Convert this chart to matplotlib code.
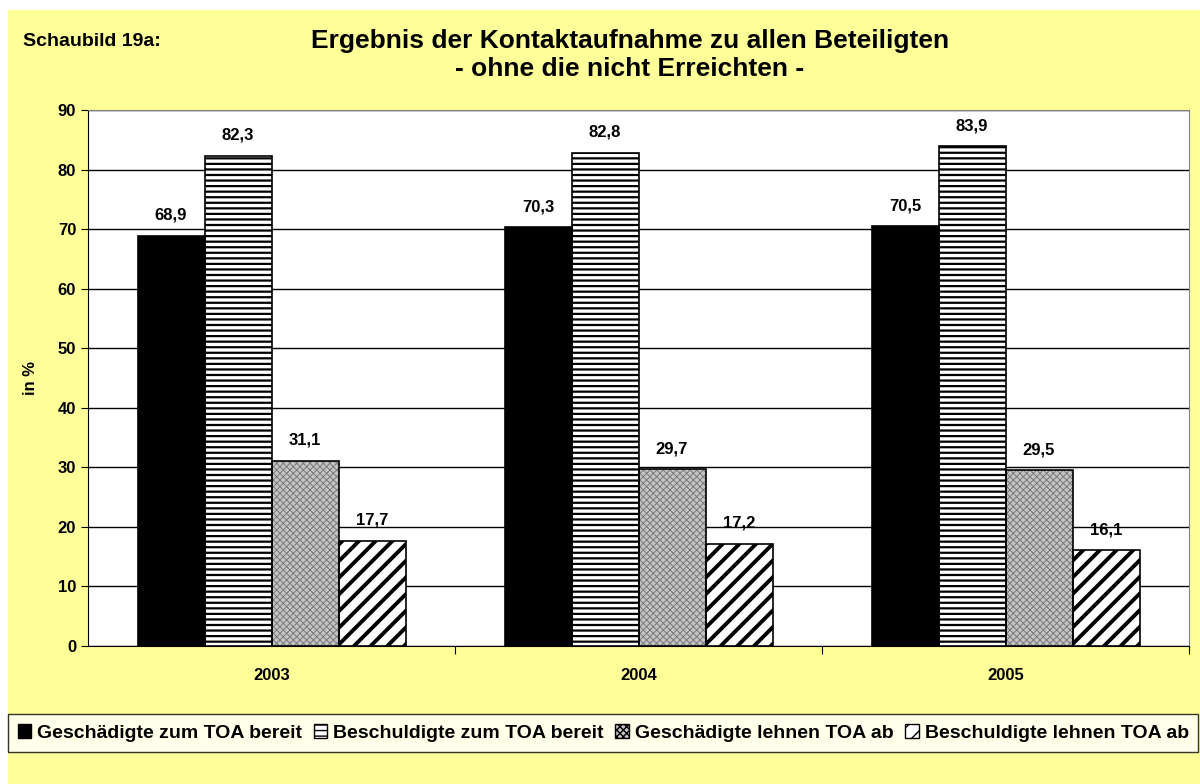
import matplotlib as mpl
import matplotlib.pyplot as plt
import matplotlib.patches as mpatches
import numpy as np

plt.rcParams['font.family'] = ['Liberation Sans', 'DejaVu Sans']
plt.rcParams['font.weight'] = 'bold'

years = ['2003', '2004', '2005']
series = ['Geschädigte zum TOA bereit', 'Beschuldigte zum TOA bereit',
          'Geschädigte lehnen TOA ab', 'Beschuldigte lehnen TOA ab']
ges_bereit = [68.9, 70.3, 70.5]
besch_bereit = [82.3, 82.8, 83.9]
ges_ab = [31.1, 29.7, 29.5]
besch_ab = [17.7, 17.2, 16.1]

W, H = 1200, 784
fig = plt.figure(figsize=(12, 7.84), dpi=100, facecolor='white')
fig.patches.append(mpatches.Rectangle((8 / W, 0), 1, 1 - 10 / H, transform=fig.transFigure,
                                      facecolor='#FFFF99', edgecolor='none', zorder=-10))

ax = fig.add_axes([88 / W, 1 - 646 / H, (1189 - 88) / W, (646 - 110) / H])
ax.set_facecolor('white')

x = np.arange(len(years))
bw = 67 / 367
styles = [dict(facecolor='black', hatch=None, hc='black', hlw=1.0),
          dict(facecolor='white', hatch='---', hc='black', hlw=1.6),
          dict(facecolor='#c4c4c4', hatch='xxxxx', hc='#7a7a7a', hlw=0.7),
          dict(facecolor='white', hatch='//', hc='black', hlw=2.8)]
handles = []
for i, (vals, st) in enumerate(zip([ges_bereit, besch_bereit, ges_ab, besch_ab], styles)):
    pos = x + (i - 1.5) * bw
    with mpl.rc_context({'hatch.linewidth': st['hlw']}):
        if st['hatch']:
            ax.bar(pos, vals, bw, facecolor=st['facecolor'], edgecolor=st['hc'],
                   hatch=st['hatch'], linewidth=0, zorder=3)
        else:
            ax.bar(pos, vals, bw, facecolor=st['facecolor'], linewidth=0, zorder=3)
    ax.bar(pos, vals, bw, facecolor='none', edgecolor='black', linewidth=1.2, zorder=4)
    for p, v in zip(pos, vals):
        ax.text(p, v + 2.2, f'{v:.1f}'.replace('.', ','), ha='center', va='bottom',
                fontsize=12, fontweight='bold')
    with mpl.rc_context({'hatch.linewidth': 1.0}):
        handles.append(mpatches.Patch(facecolor=st['facecolor'],
                                      edgecolor='black', hatch=st['hatch'], linewidth=1,
                                      label=series[i]))

ax.set_xlim(-0.5, 2.5)
ax.set_ylim(0, 90)
ax.set_yticks(range(0, 91, 10))
ax.yaxis.grid(True, color='black', linewidth=1)
ax.set_axisbelow(True)
ax.set_xticks([0.5, 1.5, 2.5], minor=False)
ax.set_xticklabels([])
ax.set_xticks(x, minor=True)
ax.set_xticklabels(years, minor=True)
ax.tick_params(axis='x', which='minor', length=0, pad=16, labelsize=12)
ax.tick_params(axis='x', which='major', direction='out', length=6)
ax.tick_params(axis='y', labelsize=12, length=5)
for lab in ax.get_yticklabels() + ax.get_xticklabels(minor=True):
    lab.set_fontweight('bold')
for s in ['top', 'right']:
    ax.spines[s].set_color('#808080')
ax.spines['left'].set_color('black')
ax.spines['bottom'].set_color('black')
ax.set_ylabel('in %', fontsize=12, fontweight='bold', labelpad=14)

fig.text(23 / W, 1 - 41 / H, 'Schaubild 19a:', fontsize=14, fontweight='bold', va='center')
fig.text(630 / W, 1 - 55 / H, 'Ergebnis der Kontaktaufnahme zu allen Beteiligten\n- ohne die nicht Erreichten -',
         ha='center', va='center', fontsize=19, fontweight='bold', linespacing=1.25)

leg = fig.legend(handles=handles, ncol=4, loc='center left',
                 bbox_to_anchor=(8 / W, 1 - 733 / H), frameon=True, fancybox=False,
                 prop={'weight': 'bold', 'size': 14}, handlelength=0.7, handleheight=0.7,
                 handletextpad=0.3, columnspacing=0.6, borderpad=0.5, borderaxespad=0)
leg.get_frame().set_edgecolor('black')
leg.get_frame().set_linewidth(1)

fig.savefig('out.png', dpi=100, facecolor=fig.get_facecolor())
